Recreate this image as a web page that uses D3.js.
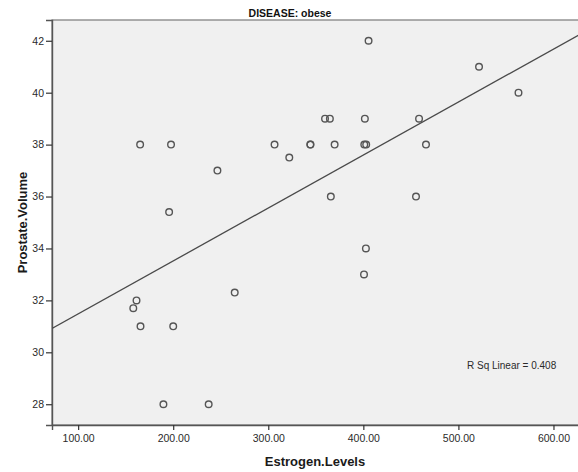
<html>
<head>
<script src="https://d3js.org/d3.v7.min.js"></script>
<style>
body { margin: 0; background: #ffffff; font-family: 'Liberation Sans', Arial, sans-serif; }
.tick-label { font-size: 10.5px; fill: #2a2a2a; }
.axis-title { font-size: 13px; font-weight: bold; fill: #1a1a1a; }
</style>
</head>
<body>
<svg id="chart" width="578" height="472"></svg>
<script>
// values (Estrogen.Levels vs Prostate.Volume, obese group)
var estrogen = [405.5, 521.7, 563.2, 359.7, 364.8, 401.6, 458.6, 165.2, 197.7, 306.6,
                344.3, 344.3, 369.8, 401.0, 403.0, 465.9, 322.1, 246.5, 195.7, 365.8,
                455.4, 402.7, 400.7, 264.7, 161.4, 158.0, 165.6, 200.0, 189.7, 237.3];
var volume = [42, 41, 40, 39, 39, 39, 39, 38, 38, 38,
              38, 38, 38, 38, 38, 38, 37.5, 37, 35.4, 36,
              36, 34, 33, 32.3, 32, 31.7, 31, 31, 28, 28];
var xTicks = [100, 200, 300, 400, 500, 600];
var yTicks = [28, 30, 32, 34, 36, 38, 40, 42];
var rSqText = "R Sq Linear = 0.408";

var svg = d3.select("#chart");

// plot frame runs past the right edge of the picture
var plotLeft = 52, plotTop = 20, plotBottom = 425, plotRight = 601;
var x = d3.scaleLinear().domain([72.5, 650]).range([plotLeft, plotRight]);
var y = d3.scaleLinear().domain([27.2, 42.8]).range([plotBottom, plotTop]);

svg.append("defs").append("clipPath").attr("id", "plotClip")
  .append("rect")
  .attr("x", plotLeft).attr("y", plotTop)
  .attr("width", plotRight - plotLeft).attr("height", plotBottom - plotTop);

svg.append("rect")
  .attr("x", plotLeft).attr("y", plotTop)
  .attr("width", plotRight - plotLeft).attr("height", plotBottom - plotTop)
  .style("fill", "#f0f0f0")
  .style("stroke", "#7a7a7a")
  .style("stroke-width", 1.2);

// title
svg.append("text")
  .attr("x", 290).attr("y", 16.5)
  .attr("text-anchor", "middle")
  .style("font-size", "10.5px")
  .style("font-weight", "bold")
  .style("fill", "#111")
  .text("DISEASE: obese");

// axes
var xAxis = d3.axisBottom(x).tickValues(xTicks).tickSize(5).tickFormat(d3.format(".2f"));
var yAxis = d3.axisLeft(y).tickValues(yTicks).tickSize(6).tickFormat(d3.format("d"));

var gx = svg.append("g").attr("transform", "translate(0," + plotBottom + ")").call(xAxis);
var gy = svg.append("g").attr("transform", "translate(" + plotLeft + ",0)").call(yAxis);

[gx, gy].forEach(function (g) {
  g.select(".domain").style("stroke", "#555").style("stroke-width", 1.4);
  g.selectAll(".tick line").style("stroke", "#333").style("stroke-width", 1.2);
  g.selectAll(".tick text").attr("class", "tick-label").style("font-family", "'Liberation Sans', Arial, sans-serif");
});
gx.selectAll(".tick text").attr("dy", "0.71em").attr("y", 10);
gy.selectAll(".tick text").attr("x", -8);

// axis titles
svg.append("text")
  .attr("class", "axis-title")
  .attr("x", 315).attr("y", 466)
  .attr("text-anchor", "middle")
  .text("Estrogen.Levels");

svg.append("text")
  .attr("class", "axis-title")
  .attr("transform", "translate(27," + ((plotTop + plotBottom) / 2) + ") rotate(-90)")
  .attr("text-anchor", "middle")
  .text("Prostate.Volume");

// least squares fit line
var mx = d3.mean(estrogen), my = d3.mean(volume);
var sxy = d3.sum(estrogen, function (v, i) { return (v - mx) * (volume[i] - my); });
var sxx = d3.sum(estrogen, function (v) { return (v - mx) * (v - mx); });
var slope = sxy / sxx;
var intercept = my - slope * mx;
var xd = x.domain();

svg.append("line")
  .attr("clip-path", "url(#plotClip)")
  .attr("x1", x(xd[0])).attr("y1", y(intercept + slope * xd[0]))
  .attr("x2", x(xd[1])).attr("y2", y(intercept + slope * xd[1]))
  .style("stroke", "#4a4a4a")
  .style("stroke-width", 1.3);

// points
svg.append("g").selectAll("circle")
  .data(estrogen)
  .enter().append("circle")
  .attr("cx", function (d) { return x(d); })
  .attr("cy", function (d, i) { return y(volume[i]); })
  .attr("r", 3.3)
  .style("fill", "none")
  .style("stroke", "#555")
  .style("stroke-width", 1.4);

svg.append("text")
  .attr("x", 467).attr("y", 368.5)
  .style("font-size", "10px")
  .style("fill", "#2a2a2a")
  .text(rSqText);
</script>
</body>
</html>
